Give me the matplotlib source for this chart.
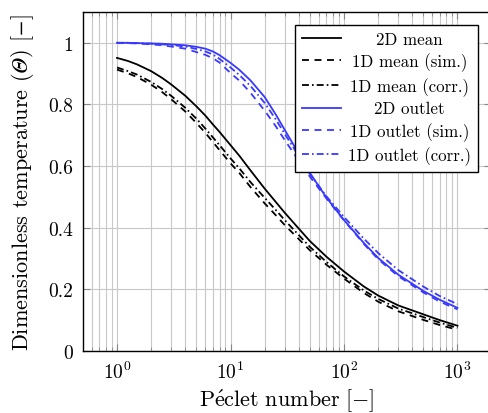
import numpy as np
import matplotlib
matplotlib.use("Agg")
import matplotlib.pyplot as plt
from matplotlib.ticker import FixedLocator, FuncFormatter, LogLocator, NullFormatter

plt.rcParams['font.family'] = ['cmr10', 'DejaVu Serif']
plt.rcParams['mathtext.fontset'] = 'cm'
plt.rcParams['axes.formatter.use_mathtext'] = True
plt.rcParams['lines.scale_dashes'] = False
# fonts for the 'custom' math set used by the y label (italic capital Theta)
plt.rcParams['mathtext.rm'] = 'STIXGeneral'
plt.rcParams['mathtext.bf'] = 'STIXGeneral:italic'

# Peclet numbers at which the temperatures were evaluated
peclet = [1, 1.25, 1.5, 2, 2.5, 3, 4, 5, 6, 7, 8, 10, 12, 15, 20, 25, 30, 40, 50, 70,
          100, 150, 200, 300, 500, 700, 1000]

# mean temperature
mean_2d = [0.951, 0.941, 0.930, 0.908, 0.886, 0.865, 0.828, 0.794, 0.764, 0.735, 0.711,
           0.668, 0.633, 0.586, 0.527, 0.484, 0.449, 0.397, 0.357, 0.306,
           0.258, 0.209, 0.180, 0.148, 0.119, 0.100, 0.082]
mean_1d_sim = [0.913, 0.901, 0.889, 0.864, 0.840, 0.817, 0.777, 0.740, 0.708, 0.678, 0.652,
               0.609, 0.577, 0.532, 0.479, 0.441, 0.409, 0.363, 0.327, 0.280,
               0.235, 0.188, 0.160, 0.129, 0.101, 0.084, 0.069]
mean_1d_corr = [0.920, 0.908, 0.897, 0.873, 0.850, 0.828, 0.789, 0.754, 0.722, 0.693, 0.668,
                0.625, 0.592, 0.548, 0.497, 0.458, 0.425, 0.376, 0.338, 0.289,
                0.242, 0.196, 0.169, 0.138, 0.110, 0.092, 0.075]

# outlet temperature
outlet_2d = [1.000, 1.000, 0.999, 0.998, 0.997, 0.995, 0.992, 0.987, 0.981, 0.972, 0.960,
             0.935, 0.912, 0.878, 0.824, 0.768, 0.718, 0.640, 0.578, 0.498,
             0.425, 0.350, 0.302, 0.248, 0.195, 0.166, 0.140]
outlet_1d_sim = [1.000, 0.999, 0.998, 0.995, 0.992, 0.988, 0.981, 0.970, 0.961, 0.950, 0.936,
                 0.902, 0.877, 0.838, 0.780, 0.730, 0.685, 0.617, 0.566, 0.495,
                 0.424, 0.347, 0.298, 0.243, 0.190, 0.160, 0.135]
outlet_1d_corr = [1.000, 1.000, 0.999, 0.997, 0.995, 0.993, 0.988, 0.980, 0.972, 0.962, 0.948,
                  0.920, 0.895, 0.860, 0.805, 0.752, 0.705, 0.632, 0.575, 0.502,
                  0.435, 0.364, 0.318, 0.263, 0.209, 0.178, 0.152]

y_ticks = [0, 0.2, 0.4, 0.6, 0.8, 1]

blue = (0.22, 0.22, 1.0)
dashed = (0, (5, 4))
dashdot = (0, (5, 2.2, 1.2, 2.2))

fig = plt.figure(figsize=(4.89, 4.14), dpi=100)
ax = fig.add_axes([0.1697, 0.1498, 0.8354, 0.8188])

lw = 1.3
ax.plot(peclet, mean_2d, color='k', lw=lw, label='2D mean')
ax.plot(peclet, mean_1d_sim, color='k', lw=lw, ls=dashed, label='1D mean (sim.)')
ax.plot(peclet, mean_1d_corr, color='k', lw=lw, ls=dashdot, label='1D mean (corr.)')
ax.plot(peclet, outlet_2d, color=blue, lw=lw, label='2D outlet')
ax.plot(peclet, outlet_1d_sim, color=blue, lw=lw, ls=dashed, label='1D outlet (sim.)')
ax.plot(peclet, outlet_1d_corr, color=blue, lw=lw, ls=dashdot, label='1D outlet (corr.)')

ax.set_xscale('log')
ax.set_xlim(10 ** -0.3, 10 ** 3.3)
ax.set_ylim(0, 1.1)
ax.xaxis.set_major_locator(LogLocator(base=10, numticks=10))
ax.xaxis.set_minor_locator(LogLocator(base=10, subs=np.arange(2, 10), numticks=20))
ax.xaxis.set_minor_formatter(NullFormatter())
ax.yaxis.set_major_locator(FixedLocator(y_ticks))
ax.yaxis.set_major_formatter(FuncFormatter(lambda v, p: f"{v:g}"))

ax.grid(True, which='both', axis='x', color='#c8c8c8', lw=0.8)
ax.grid(True, which='major', axis='y', color='#c8c8c8', lw=0.8)
ax.set_axisbelow(True)
ax.tick_params(which='both', direction='in', top=True, right=True, labelsize=14, color='#888888')
ax.tick_params(which='major', length=5, pad=7)
ax.tick_params(which='minor', length=3)
for s in ax.spines.values():
    s.set_linewidth(1.0)

ax.set_xlabel(r"$\mathrm{P\acute{e}clet\ number}\ [-]$", fontsize=16, labelpad=3)
ax.set_ylabel(r"Dimensionless temperature ($\mathbf{\Theta}$) [$-$]", fontsize=16,
              labelpad=9, math_fontfamily='custom')

leg = ax.legend(loc='upper right', bbox_to_anchor=(0.967, 0.963), borderaxespad=0,
                fancybox=False, framealpha=1, edgecolor='k', fontsize=12.2,
                handlelength=2.3, handletextpad=0.4, labelspacing=0.33, borderpad=0.42)
leg.get_frame().set_linewidth(1.0)

# centre each legend entry within the text column
fig.canvas.draw()
renderer = fig.canvas.get_renderer()
widths = [t.get_window_extent(renderer).width for t in leg.get_texts()]
wmax = max(widths)
for t, w in zip(leg.get_texts(), widths):
    t.set_position(((wmax - w) / 2, 0))

fig.savefig('out.png', dpi=100)
